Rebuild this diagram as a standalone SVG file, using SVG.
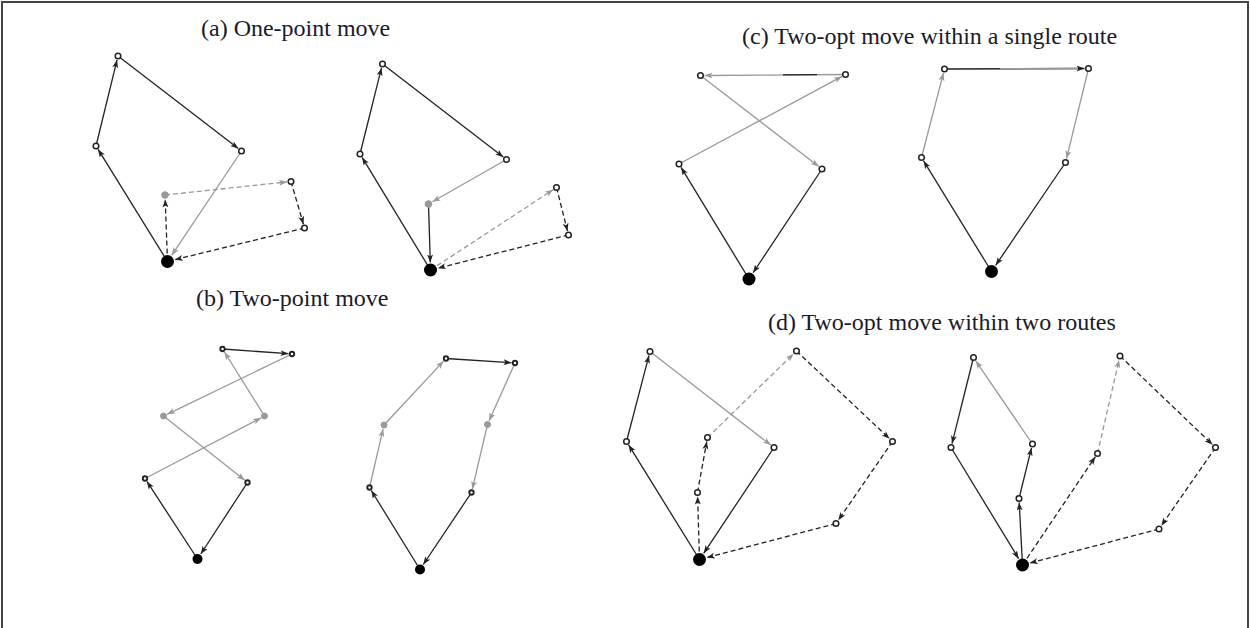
<svg xmlns="http://www.w3.org/2000/svg" width="1250" height="628" viewBox="0 0 1250 628">
<defs>
<marker id="ab" markerUnits="userSpaceOnUse" markerWidth="9" markerHeight="7" refX="8" refY="3" orient="auto"><path d="M0,0 L8,3 L0,6 L2,3 z" fill="#222"/></marker>
<marker id="ag" markerUnits="userSpaceOnUse" markerWidth="9" markerHeight="7" refX="8" refY="3" orient="auto"><path d="M0,0 L8,3 L0,6 L2,3 z" fill="#999"/></marker>
</defs>
<style>
.t{font-family:"Liberation Serif","Times New Roman",serif;font-size:24px;fill:#1a1a2a}
.b{stroke:#222;stroke-width:1.3;fill:none;marker-end:url(#ab)}
.g{stroke:#999;stroke-width:1.3;fill:none;marker-end:url(#ag)}
.d{stroke-dasharray:5,3}
.n{fill:#fff;stroke:#222;stroke-width:1.5}
.s{fill:#fff;stroke:#222;stroke-width:1.9}
.gn{fill:#999;stroke:#999;stroke-width:1}
.dep{fill:#000}
.frame{fill:none;stroke:#444;stroke-width:2}
</style>
<path class="frame" d="M2,628 V2 H1248 V628"/>
<text class="t" x="201" y="36">(a) One-point move</text>
<text class="t" x="742" y="44">(c) Two-opt move within a single route</text>
<text class="t" x="196" y="306">(b) Two-point move</text>
<text class="t" x="768" y="330">(d) Two-opt move within two routes</text>
<g id="connectors">
<!-- (a) left -->
<line class="b" x1="167.5" y1="261.5" x2="98.1" y2="149.4"/>
<line class="b" x1="96" y1="146" x2="117.05" y2="59.9"/>
<line class="b" x1="118" y1="56" x2="238.3" y2="148.6"/>
<line class="g" x1="241.5" y1="151" x2="171.7" y2="255.3"/>
<line class="b d" x1="167.5" y1="261.5" x2="165.2" y2="199.5"/>
<line class="g d" x1="165" y1="195" x2="287" y2="181.9"/>
<line class="b d" x1="291" y1="181.5" x2="303.4" y2="224.2"/>
<line class="b d" x1="304.5" y1="228" x2="174.8" y2="259.7"/>
<!-- (a) right -->
<line class="b" x1="430.5" y1="270" x2="362.1" y2="157.4"/>
<line class="b" x1="360" y1="154" x2="381.5" y2="67.9"/>
<line class="b" x1="382.5" y1="64" x2="503.3" y2="157.1"/>
<line class="g" x1="506.5" y1="159.5" x2="432.4" y2="201.8"/>
<line class="b" x1="428.5" y1="204" x2="430.3" y2="262.5"/>
<line class="g d" x1="430.5" y1="270" x2="553.2" y2="189.7"/>
<line class="b d" x1="556.5" y1="187.5" x2="567.5" y2="231.1"/>
<line class="b d" x1="568.5" y1="235" x2="437.8" y2="268.2"/>
<!-- (c) left -->
<line class="b" x1="749" y1="279" x2="681.1" y2="167.4"/>
<line class="g" x1="679" y1="164" x2="842" y2="76.4"/>
<line class="g" x1="845.5" y1="74.5" x2="704.5" y2="75.5"/>
<line stroke="#222" stroke-width="1.3" x1="817" y1="74.7" x2="783" y2="74.9"/>
<line class="g" x1="700.5" y1="75.5" x2="818.8" y2="166.6"/>
<line class="b" x1="822" y1="169" x2="753.1" y2="272.75"/>
<!-- (c) right -->
<line class="b" x1="991.5" y1="271.5" x2="923.6" y2="160.9"/>
<line class="g" x1="921.5" y1="157.5" x2="943.5" y2="72.9"/>
<line class="b" x1="944.5" y1="69" x2="1084.5" y2="68.5"/>
<line stroke="#999" stroke-width="1.4" x1="1000" y1="68.8" x2="1078" y2="68.5"/>
<line class="g" x1="1088.5" y1="68.5" x2="1066.5" y2="158.6"/>
<line class="b" x1="1065.5" y1="162.5" x2="995.7" y2="265.3"/>
<!-- (b) left -->
<line class="b" x1="197.5" y1="559" x2="146.9" y2="481.4"/>
<line class="g" x1="145" y1="478.5" x2="261" y2="417.9"/>
<line class="g" x1="264.5" y1="416" x2="224.4" y2="352"/>
<line class="b" x1="222.5" y1="349" x2="288.5" y2="353.7"/>
<line class="g" x1="292" y1="354" x2="167.1" y2="414.3"/>
<line class="g" x1="163.5" y1="416" x2="244.8" y2="480.3"/>
<line class="b" x1="247.5" y1="482.5" x2="200.8" y2="554"/>
<!-- (b) right -->
<line class="b" x1="420" y1="569.5" x2="371.3" y2="490.5"/>
<line class="g" x1="369.5" y1="487.5" x2="383.1" y2="428.9"/>
<line class="g" x1="384" y1="425" x2="443.6" y2="361.1"/>
<line class="b" x1="446" y1="358.5" x2="511.5" y2="362.8"/>
<line class="g" x1="515" y1="363" x2="489.1" y2="420.85"/>
<line class="g" x1="487.5" y1="424.5" x2="472.3" y2="489.1"/>
<line class="b" x1="471.5" y1="492.5" x2="423.3" y2="564.5"/>
<!-- (d) left -->
<line class="b" x1="699.5" y1="559.5" x2="628.6" y2="444.9"/>
<line class="b" x1="626.5" y1="441.5" x2="649" y2="355.4"/>
<line class="g" x1="650" y1="351.5" x2="770.8" y2="445.1"/>
<line class="b" x1="774" y1="447.5" x2="703.7" y2="553.3"/>
<line class="b d" x1="699.5" y1="559.5" x2="697.6" y2="496.5"/>
<line class="b d" x1="697.5" y1="492.5" x2="706.8" y2="441.4"/>
<line class="g d" x1="707.5" y1="437.5" x2="793.6" y2="353.8"/>
<line class="b d" x1="796.5" y1="351" x2="889.6" y2="438.8"/>
<line class="b d" x1="892.5" y1="441.5" x2="838.3" y2="520.2"/>
<line class="b d" x1="836" y1="523.5" x2="706.8" y2="557.6"/>
<!-- (d) right -->
<line class="b" x1="1022.5" y1="565" x2="1019.2" y2="502.5"/>
<line class="b" x1="1019" y1="498.5" x2="1031.5" y2="447.9"/>
<line class="g" x1="1032.5" y1="444" x2="975.75" y2="360.8"/>
<line class="b" x1="973.5" y1="357.5" x2="952" y2="443.6"/>
<line class="b" x1="951" y1="447.5" x2="1018.6" y2="558.6"/>
<line class="b d" x1="1022.5" y1="565" x2="1095.3" y2="456.8"/>
<line class="g d" x1="1097.5" y1="453.5" x2="1119.1" y2="359.9"/>
<line class="b d" x1="1120" y1="356" x2="1212.6" y2="444.7"/>
<line class="b d" x1="1215.5" y1="447.5" x2="1161.3" y2="525.7"/>
<line class="b d" x1="1159" y1="529" x2="1029.75" y2="563.1"/>
</g>
<g id="panel-a-left">
<circle id="a1-depot" class="dep" cx="167.5" cy="261.5" r="6.5"/>
<circle id="a1-n1" class="n" cx="118" cy="56" r="2.8"/>
<circle id="a1-n2" class="n" cx="96" cy="146" r="2.8"/>
<circle id="a1-n3" class="n" cx="241.5" cy="151" r="2.8"/>
<circle id="a1-g" class="gn" cx="165" cy="195" r="3.3"/>
<circle id="a1-n4" class="n" cx="291" cy="181.5" r="2.8"/>
<circle id="a1-n5" class="n" cx="304.5" cy="228" r="2.8"/>
</g>
<g id="panel-a-right">
<circle id="a2-depot" class="dep" cx="430.5" cy="270" r="6.5"/>
<circle id="a2-n1" class="n" cx="382.5" cy="64" r="2.8"/>
<circle id="a2-n2" class="n" cx="360" cy="154" r="2.8"/>
<circle id="a2-n3" class="n" cx="506.5" cy="159.5" r="2.8"/>
<circle id="a2-g" class="gn" cx="428.5" cy="204" r="3.3"/>
<circle id="a2-n4" class="n" cx="556.5" cy="187.5" r="2.8"/>
<circle id="a2-n5" class="n" cx="568.5" cy="235" r="2.8"/>
</g>
<g id="panel-c-left">
<circle id="c1-depot" class="dep" cx="749" cy="279" r="6.5"/>
<circle id="c1-n1" class="n" cx="700.5" cy="75.5" r="2.8"/>
<circle id="c1-n2" class="n" cx="845.5" cy="74.5" r="2.8"/>
<circle id="c1-n3" class="n" cx="679" cy="164" r="2.8"/>
<circle id="c1-n4" class="n" cx="822" cy="169" r="2.8"/>
</g>
<g id="panel-c-right">
<circle id="c2-depot" class="dep" cx="991.5" cy="271.5" r="6.5"/>
<circle id="c2-n1" class="n" cx="944.5" cy="69" r="2.8"/>
<circle id="c2-n2" class="n" cx="1088.5" cy="68.5" r="2.8"/>
<circle id="c2-n3" class="n" cx="921.5" cy="157.5" r="2.8"/>
<circle id="c2-n4" class="n" cx="1065.5" cy="162.5" r="2.8"/>
</g>
<g id="panel-b-left">
<circle id="b1-depot" class="dep" cx="197.5" cy="559" r="5"/>
<circle id="b1-n1" class="s" cx="222.5" cy="349" r="2.2"/>
<circle id="b1-n2" class="s" cx="292" cy="354" r="2.2"/>
<circle id="b1-g1" class="gn" cx="163.5" cy="416" r="3"/>
<circle id="b1-g2" class="gn" cx="264.5" cy="416" r="3"/>
<circle id="b1-n3" class="s" cx="145" cy="478.5" r="2.2"/>
<circle id="b1-n4" class="s" cx="247.5" cy="482.5" r="2.2"/>
</g>
<g id="panel-b-right">
<circle id="b2-depot" class="dep" cx="420" cy="569.5" r="5"/>
<circle id="b2-n1" class="s" cx="446" cy="358.5" r="2.2"/>
<circle id="b2-n2" class="s" cx="515" cy="363" r="2.2"/>
<circle id="b2-g1" class="gn" cx="384" cy="425" r="3"/>
<circle id="b2-g2" class="gn" cx="487.5" cy="424.5" r="3"/>
<circle id="b2-n3" class="s" cx="369.5" cy="487.5" r="2.2"/>
<circle id="b2-n4" class="s" cx="471.5" cy="492.5" r="2.2"/>
</g>
<g id="panel-d-left">
<circle id="d1-depot" class="dep" cx="699.5" cy="559.5" r="6.5"/>
<circle id="d1-n1" class="n" cx="650" cy="351.5" r="2.8"/>
<circle id="d1-n2" class="n" cx="626.5" cy="441.5" r="2.8"/>
<circle id="d1-n3" class="n" cx="774" cy="447.5" r="2.8"/>
<circle id="d1-n4" class="n" cx="796.5" cy="351" r="2.8"/>
<circle id="d1-n5" class="n" cx="892.5" cy="441.5" r="2.8"/>
<circle id="d1-n6" class="n" cx="836" cy="523.5" r="2.8"/>
<circle id="d1-n7" class="n" cx="707.5" cy="437.5" r="2.8"/>
<circle id="d1-n8" class="n" cx="697.5" cy="492.5" r="2.8"/>
</g>
<g id="panel-d-right">
<circle id="d2-depot" class="dep" cx="1022.5" cy="565" r="6.5"/>
<circle id="d2-n1" class="n" cx="973.5" cy="357.5" r="2.8"/>
<circle id="d2-n2" class="n" cx="951" cy="447.5" r="2.8"/>
<circle id="d2-n3" class="n" cx="1032.5" cy="444" r="2.8"/>
<circle id="d2-n4" class="n" cx="1019" cy="498.5" r="2.8"/>
<circle id="d2-n5" class="n" cx="1097.5" cy="453.5" r="2.8"/>
<circle id="d2-n6" class="n" cx="1120" cy="356" r="2.8"/>
<circle id="d2-n7" class="n" cx="1215.5" cy="447.5" r="2.8"/>
<circle id="d2-n8" class="n" cx="1159" cy="529" r="2.8"/>
</g>
</svg>
